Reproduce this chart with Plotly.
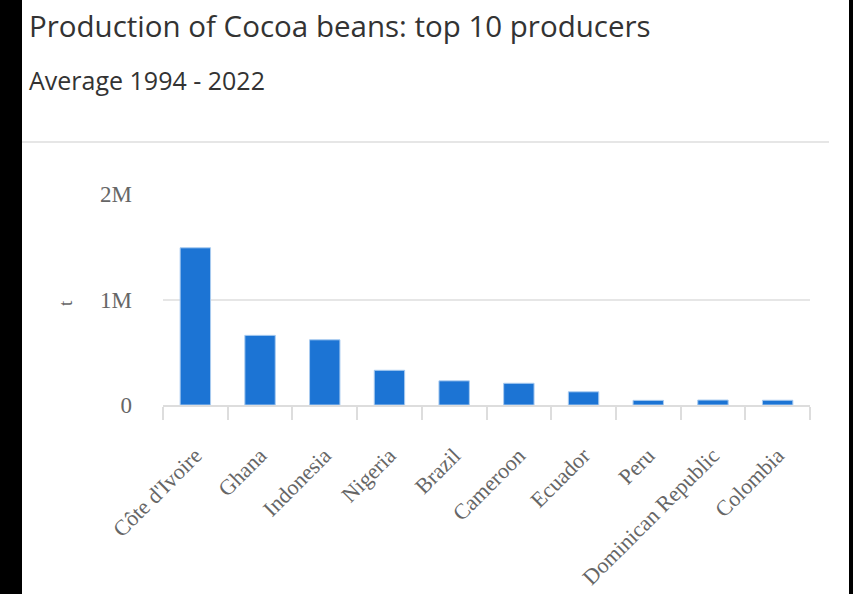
import plotly.graph_objects as go

countries = ["Côte d'Ivoire", "Ghana", "Indonesia", "Nigeria", "Brazil",
             "Cameroon", "Ecuador", "Peru", "Dominican Republic", "Colombia"]
production_t = [1490000, 660000, 618000, 329000, 229000,
                206000, 125000, 44000, 47000, 45000]
y_tickvals = [0, 1000000, 2000000]
y_ticktext = ["0", "1M", "2M"]

W, H = 853, 594
L, R, T, B = 163, 43, 194, 189
PW, PH = W - L - R, H - T - B


def px_x(px):
    return (px - L) / PW


def px_y(py):
    return (H - B - py) / PH


fig = go.Figure()
fig.add_trace(go.Bar(
    x=countries, y=production_t,
    marker=dict(color="#1c74d4", line=dict(color="#a9cbf0", width=1)),
    width=0.47,
    hoverinfo="x+y",
))

serif = "Liberation Serif, Times New Roman, serif"
fig.update_layout(
    width=W, height=H,
    margin=dict(l=L, r=R, t=T, b=B, pad=0, autoexpand=False),
    paper_bgcolor="white", plot_bgcolor="white",
    showlegend=False,
    xaxis=dict(
        type="category", tickangle=-45, automargin=False,
        tickfont=dict(family=serif, size=22, color="#666"),
        showline=True, linecolor="#dddddd", linewidth=2,
        ticks="outside", tickson="boundaries", ticklen=13,
        tickcolor="#dddddd", tickwidth=2,
        ticklabelstandoff=27,
        showgrid=False, fixedrange=True,
    ),
    yaxis=dict(
        range=[0, 2000000], tickvals=y_tickvals, ticktext=y_ticktext,
        automargin=False,
        tickfont=dict(family=serif, size=23, color="#666"),
        showgrid=True, gridcolor="#e6e6e6", gridwidth=2,
        zeroline=False, showline=False, ticks="",
        ticklabelstandoff=30, fixedrange=True,
    ),
    shapes=[
        dict(type="rect", xref="paper", yref="paper",
             x0=px_x(-5), x1=px_x(22), y0=px_y(H + 5), y1=px_y(-5),
             fillcolor="black", line=dict(width=0), layer="above"),
        dict(type="rect", xref="paper", yref="paper",
             x0=px_x(849), x1=px_x(W + 5), y0=px_y(H + 5), y1=px_y(-5),
             fillcolor="black", line=dict(width=0), layer="above"),
        dict(type="line", xref="paper", yref="paper",
             x0=px_x(22), x1=px_x(829), y0=px_y(142), y1=px_y(142),
             line=dict(color="#e6e6e6", width=2), layer="above"),
    ],
    annotations=[
        dict(text="Production of Cocoa beans: top 10 producers",
             xref="paper", yref="paper", x=px_x(27), y=px_y(25),
             xanchor="left", yanchor="middle", showarrow=False,
             font=dict(family="Open Sans, sans-serif", size=29.5, color="#333")),
        dict(text="Average 1994 - 2022",
             xref="paper", yref="paper", x=px_x(27), y=px_y(80),
             xanchor="left", yanchor="middle", showarrow=False,
             font=dict(family="Open Sans, sans-serif", size=25, color="#333")),
        dict(text="t", textangle=-90,
             xref="paper", yref="paper", x=px_x(65), y=px_y(303),
             xanchor="center", yanchor="middle", showarrow=False,
             font=dict(family=serif, size=19, color="#666")),
    ],
)

fig.write_html("out.html", config={"displayModeBar": False},
               post_script="document.body.style.margin='0';")
